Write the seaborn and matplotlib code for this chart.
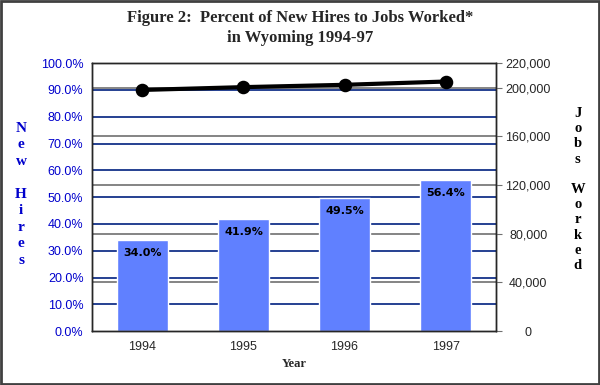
import matplotlib
matplotlib.use("Agg")
import matplotlib.pyplot as plt
import seaborn as sns
import pandas as pd
from matplotlib.patches import Rectangle

sns.set_style("white")
plt.rcParams['font.family'] = ['Liberation Sans', 'DejaVu Sans']

# data
years = ["1994", "1995", "1996", "1997"]
new_hire_pct = [34.0, 41.9, 49.5, 56.4]
jobs_worked = [198000, 200300, 202200, 204900]
left_ticks = [0, 10, 20, 30, 40, 50, 60, 70, 80, 90, 100]
right_ticks = [0, 40000, 80000, 120000, 160000, 200000, 220000]

bar_color = "#6080ff"
navy = "#00207f"
gray = "#707070"
jobs_max = 220000

df = pd.DataFrame({"year": years, "pct": new_hire_pct, "jobs": jobs_worked})

fig = plt.figure(figsize=(6, 3.85), dpi=100)
ax = fig.add_axes([0.153, 0.140, 0.674, 0.696])

# grid lines behind bars: blue for left scale, gray for right scale
for t in left_ticks[1:-1]:
    ax.axhline(t, color=navy, lw=1.2, zorder=0)
for t in right_ticks[1:-1]:
    ax.axhline(t / jobs_max * 100, color=gray, lw=1.2, zorder=0)

sns.barplot(data=df, x="year", y="pct", ax=ax, color=bar_color,
            saturation=1, width=0.5, zorder=2)
for i, v in enumerate(new_hire_pct):
    ax.text(i, v - 4.8, f"{v:.1f}%", ha="center", va="center",
            fontsize=8, fontweight="bold", color="black",
            family=["DejaVu Sans"], zorder=3)

ax.set_ylim(0, 100)
ax.set_yticks(left_ticks)
ax.set_yticklabels([f"{t:.1f}%" for t in left_ticks], color="#0000cc", fontsize=9)
ax.set_xlabel("Year", fontsize=9, fontweight="bold", family=["Liberation Serif"])
ax.set_ylabel("")
ax.tick_params(axis="x", labelsize=9, length=0, pad=7)
ax.tick_params(axis="y", length=0, pad=6)
for s in ax.spines.values():
    s.set_color("black")
    s.set_linewidth(1)

ax2 = ax.twinx()
sns.pointplot(data=df, x="year", y="jobs", ax=ax2, color="black",
              markers="o", markersize=7.5, linewidth=3)
ax2.set_ylim(0, jobs_max)
ax2.set_yticks(right_ticks)
ax2.set_yticklabels([f"{t:,}" for t in right_ticks], fontsize=9, ha="center")
ax2.set_ylabel("")
ax2.tick_params(axis="y", length=4, color=gray, pad=19)
for s in ax2.spines.values():
    s.set_linewidth(1)

# stacked vertical axis titles
fig.text(0.035, 0.496, "\n".join("New Hires"), color="#0000cc", ha="center",
         va="center", fontsize=11, fontweight="bold",
         family=["Liberation Serif"], linespacing=1.35)
fig.text(0.963, 0.508, "\n".join("Jobs Worked"), color="black", ha="center",
         va="center", fontsize=10.5, fontweight="bold",
         family=["Liberation Serif"], linespacing=1.22)

fig.text(0.5, 0.975, "Figure 2:  Percent of New Hires to Jobs Worked*\nin Wyoming 1994-97",
         ha="center", va="top", fontsize=12, fontweight="bold",
         family=["Liberation Serif"], linespacing=1.35)

fig.patches.append(Rectangle((0.002, 0.003), 0.996, 0.994, transform=fig.transFigure,
                             fill=False, edgecolor="#404040", lw=2))

fig.savefig("out.png", dpi=100)
